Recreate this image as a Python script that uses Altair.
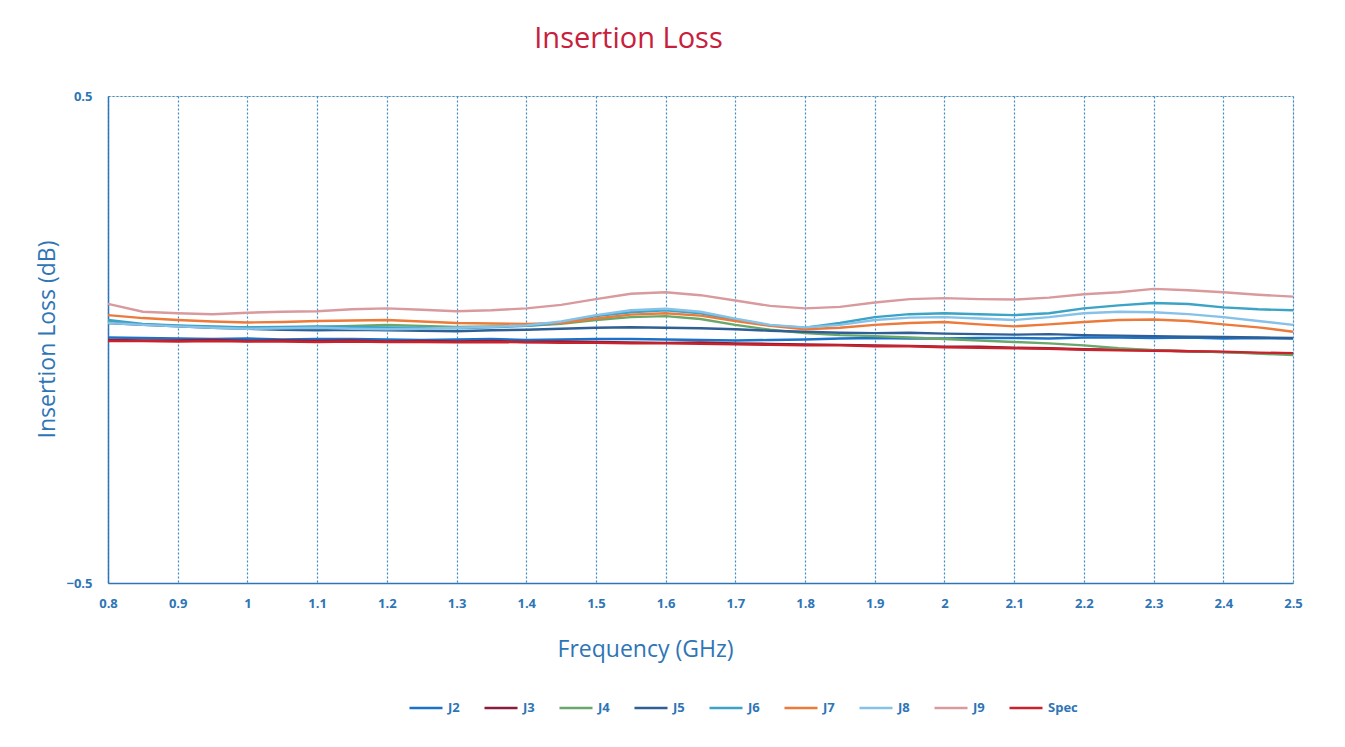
import altair as alt
import pandas as pd

freq = [0.80, 0.85, 0.90, 0.95, 1.00, 1.05, 1.10, 1.15, 1.20, 1.25, 1.30, 1.35,
        1.40, 1.45, 1.50, 1.55, 1.60, 1.65, 1.70, 1.75, 1.80, 1.85, 1.90, 1.95,
        2.00, 2.05, 2.10, 2.15, 2.20, 2.25, 2.30, 2.35, 2.40, 2.45, 2.50]

J2 = [0.004, 0.003, 0.002, 0.001, 0.002, 0.000, 0.001, 0.001, 0.000, -0.001, 0.000, 0.001,
      -0.001, 0.000, 0.001, 0.001, 0.000, -0.001, -0.002, -0.001, 0.000, 0.002, 0.003, 0.002,
      0.002, 0.003, 0.003, 0.002, 0.004, 0.004, 0.003, 0.004, 0.002, 0.003, 0.002]
J3 = [-0.001, -0.002, -0.002, -0.001, -0.003, -0.002, -0.003, -0.002, -0.004, -0.003, -0.004, -0.003,
      -0.005, -0.004, -0.005, -0.006, -0.007, -0.006, -0.008, -0.009, -0.010, -0.011, -0.012, -0.013,
      -0.015, -0.015, -0.017, -0.018, -0.020, -0.021, -0.022, -0.024, -0.026, -0.028, -0.030]
J4 = [0.036, 0.031, 0.028, 0.026, 0.025, 0.025, 0.026, 0.028, 0.030, 0.028, 0.026, 0.027,
      0.028, 0.032, 0.040, 0.046, 0.048, 0.042, 0.030, 0.020, 0.013, 0.009, 0.007, 0.004,
      0.001, -0.002, -0.005, -0.008, -0.012, -0.018, -0.022, -0.024, -0.026, -0.029, -0.032]
J5 = [0.034, 0.030, 0.027, 0.024, 0.022, 0.020, 0.019, 0.020, 0.019, 0.018, 0.017, 0.019,
      0.020, 0.022, 0.024, 0.025, 0.024, 0.023, 0.021, 0.018, 0.016, 0.014, 0.013, 0.014,
      0.012, 0.011, 0.010, 0.011, 0.009, 0.008, 0.007, 0.006, 0.005, 0.004, 0.003]
J6 = [0.040, 0.032, 0.029, 0.027, 0.025, 0.026, 0.027, 0.026, 0.025, 0.024, 0.023, 0.025,
      0.028, 0.034, 0.048, 0.056, 0.060, 0.054, 0.040, 0.029, 0.024, 0.034, 0.046, 0.052,
      0.054, 0.052, 0.050, 0.054, 0.064, 0.070, 0.075, 0.073, 0.066, 0.062, 0.060]
J7 = [0.050, 0.044, 0.040, 0.037, 0.035, 0.036, 0.038, 0.039, 0.040, 0.037, 0.034, 0.033,
      0.032, 0.034, 0.043, 0.051, 0.054, 0.049, 0.038, 0.028, 0.021, 0.024, 0.030, 0.034,
      0.036, 0.031, 0.027, 0.031, 0.036, 0.040, 0.041, 0.038, 0.031, 0.025, 0.016]
J8 = [0.034, 0.030, 0.027, 0.024, 0.022, 0.023, 0.024, 0.022, 0.021, 0.022, 0.024, 0.026,
      0.029, 0.037, 0.050, 0.060, 0.063, 0.057, 0.043, 0.030, 0.025, 0.030, 0.040, 0.045,
      0.046, 0.043, 0.040, 0.046, 0.054, 0.057, 0.056, 0.052, 0.046, 0.038, 0.030]
J9 = [0.073, 0.057, 0.054, 0.052, 0.055, 0.057, 0.058, 0.062, 0.064, 0.061, 0.058, 0.060,
      0.064, 0.071, 0.083, 0.094, 0.097, 0.091, 0.080, 0.069, 0.064, 0.067, 0.076, 0.083,
      0.085, 0.083, 0.082, 0.086, 0.093, 0.097, 0.104, 0.101, 0.097, 0.092, 0.088]
Spec = [-0.003, -0.003, -0.004, -0.003, -0.004, -0.004, -0.005, -0.004, -0.005, -0.005, -0.006, -0.005,
        -0.006, -0.007, -0.007, -0.008, -0.008, -0.009, -0.010, -0.011, -0.012, -0.012, -0.014, -0.014,
        -0.016, -0.017, -0.018, -0.019, -0.021, -0.022, -0.023, -0.024, -0.025, -0.027, -0.028]

names = ["J2", "J3", "J4", "J5", "J6", "J7", "J8", "J9", "Spec"]
series = [J2, J3, J4, J5, J6, J7, J8, J9, Spec]
colors = ["#1a73c9", "#8c1c3c", "#6aa86a", "#2f5f95", "#3ba3c6", "#ec7a3a", "#86c1e8", "#d99a9e", "#c8232c"]
widths = [2.4, 2.4, 2.4, 2.4, 4.0, 3.4, 3.4, 3.4, 3.4]

x_ticks = [0.8, 0.9, 1.0, 1.1, 1.2, 1.3, 1.4, 1.5, 1.6, 1.7, 1.8, 1.9, 2.0, 2.1, 2.2, 2.3, 2.4, 2.5]
y_ticks = [-0.5, 0.5]

rows = []
for n, vals in zip(names, series):
    for f, v in zip(freq, vals):
        rows.append({"Frequency": f, "Loss": v, "Series": n})
df = pd.DataFrame(rows)

blue = "#2e75b6"
font = "Open Sans"

chart = alt.Chart(df).mark_line(interpolate="linear").encode(
    x=alt.X("Frequency:Q",
            scale=alt.Scale(domain=[0.8, 2.5], nice=False, zero=False),
            axis=alt.Axis(values=x_ticks, format="~g", title="Frequency (GHz)",
                          grid=True, gridDash=[2, 2], gridColor="#3b8bc8", gridWidth=1.2,
                          ticks=False, domainColor=blue, domainWidth=1.5,
                          labelColor=blue, labelFont=font, labelFontSize=13, labelFontWeight="bold",
                          labelPadding=14, labelFlush=False,
                          titleColor=blue, titleFont=font, titleFontSize=23, titleFontWeight="normal",
                          titleX=537, titleY=73, titleAlign="center", titleBaseline="alphabetic")),
    y=alt.Y("Loss:Q",
            scale=alt.Scale(domain=[-0.5, 0.5], nice=False, zero=False),
            axis=alt.Axis(values=y_ticks, format=".1f", title="Insertion Loss (dB)",
                          grid=True, gridDash=[2, 2], gridColor="#3b8bc8", gridWidth=1.2,
                          ticks=False, domainColor=blue, domainWidth=1.5,
                          labelColor=blue, labelFont=font, labelFontSize=13, labelFontWeight="bold",
                          labelPadding=16, labelFlush=False,
                          titleColor=blue, titleFont=font, titleFontSize=23, titleFontWeight="normal",
                          titleX=-61, titleY=243, titleAngle=-90, titleAlign="center",
                          titleBaseline="middle")),
    color=alt.Color("Series:N",
                    scale=alt.Scale(domain=names, range=colors),
                    sort=names,
                    legend=alt.Legend(title=None, orient="none", legendX=300, legendY=594,
                                      direction="horizontal", columns=9, padding=0,
                                      symbolType="stroke", symbolSize=1089, symbolStrokeWidth=4,
                                      labelColor=blue, labelFont=font, labelFontSize=13,
                                      labelFontWeight="bold", labelOffset=4, columnPadding=19)),
    strokeWidth=alt.StrokeWidth("Series:O",
                                scale=alt.Scale(domain=names, range=widths), legend=None),
    order=alt.Order("order:Q"),
).transform_calculate(
    order="indexof(['J2','J3','J4','J5','J6','J7','J8','J9','Spec'], datum.Series)"
).properties(
    width=1185, height=487,
    padding={"left": 100, "top": 88, "right": 30, "bottom": 140},
    autosize=alt.AutoSizeParams(type="none"),
    title=alt.TitleParams("Insertion Loss", fontSize=29, font=font, color="#c8203c",
                          fontWeight="normal", anchor="middle", dx=-72, offset=36),
).configure_view(stroke=None).configure(background="white")

chart.save("out.html", embed_options={"renderer": "svg", "actions": False})
